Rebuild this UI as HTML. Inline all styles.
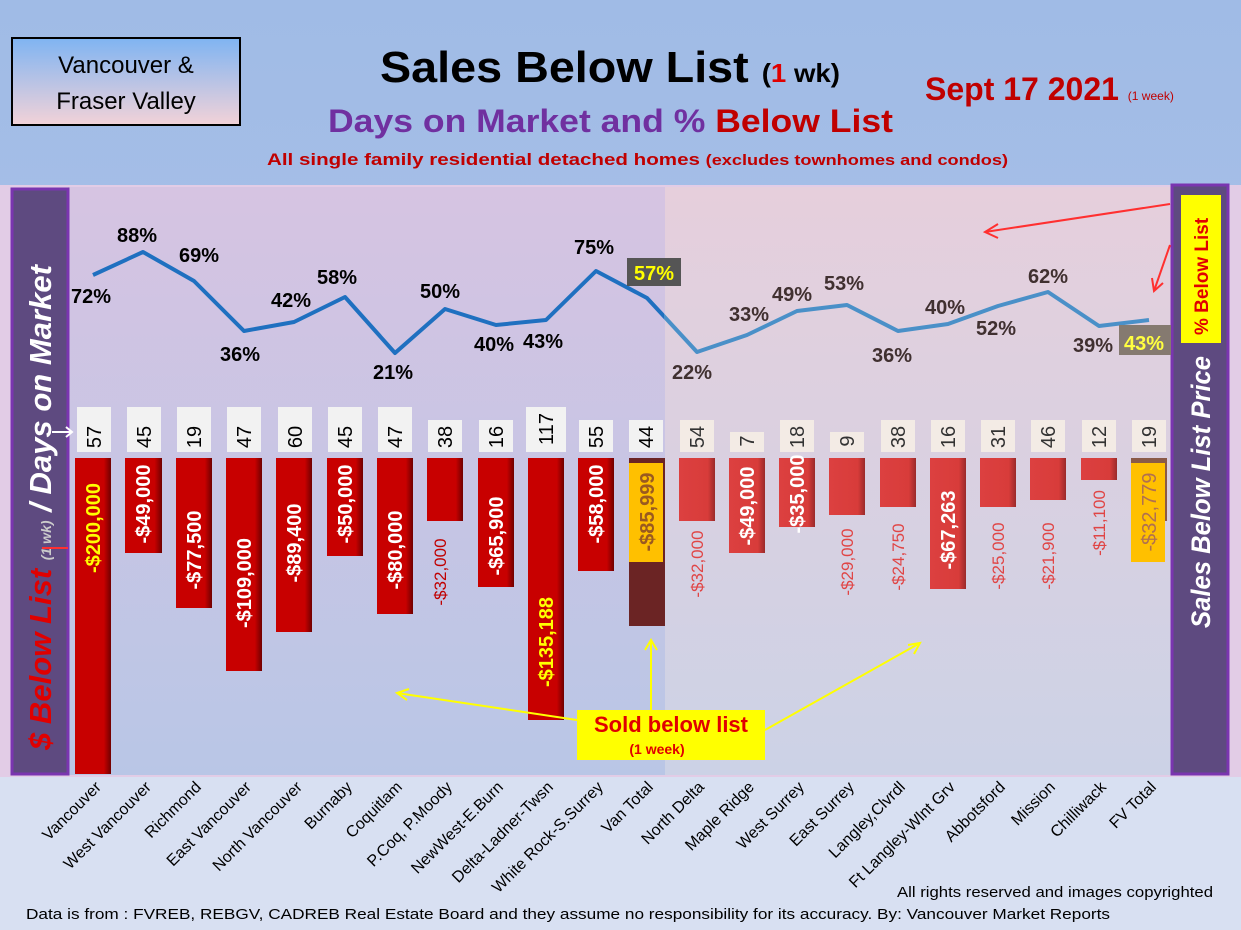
<!DOCTYPE html>
<html><head><meta charset="utf-8"><style>
html,body{margin:0;padding:0;background:#fff}
svg{display:block;font-family:"Liberation Sans",sans-serif}
</style></head><body>
<svg width="1241" height="930" viewBox="0 0 1241 930" xmlns="http://www.w3.org/2000/svg">
<defs>
<linearGradient id="bg" x1="0" y1="0" x2="0" y2="1"><stop offset="0" stop-color="#a0bbe6"/><stop offset="1" stop-color="#b3c7ea"/></linearGradient>
<linearGradient id="box" x1="0" y1="0" x2="0" y2="1"><stop offset="0" stop-color="#7fb4f2"/><stop offset="1" stop-color="#f2d2d8"/></linearGradient>
<linearGradient id="lp" x1="0" y1="0" x2="0" y2="1"><stop offset="0" stop-color="#d6c4e2"/><stop offset="1" stop-color="#b9c6e6"/></linearGradient>
<linearGradient id="rp" x1="0" y1="0" x2="0" y2="1"><stop offset="0" stop-color="#e6cfdc"/><stop offset="1" stop-color="#ccd2e6"/></linearGradient>
<linearGradient id="bar" x1="0" y1="0" x2="1" y2="0"><stop offset="0" stop-color="#c80000"/><stop offset=".8" stop-color="#c80000"/><stop offset="1" stop-color="#700000"/></linearGradient>
<linearGradient id="bar2" x1="0" y1="0" x2="1" y2="0"><stop offset="0" stop-color="#dc4040"/><stop offset=".8" stop-color="#d83c3a"/><stop offset="1" stop-color="#9a2a2a"/></linearGradient>
<clipPath id="cl"><rect x="0" y="0" width="664" height="930"/></clipPath>
<clipPath id="cr"><rect x="664" y="0" width="600" height="930"/></clipPath>
</defs>
<rect width="1241" height="930" fill="url(#bg)"/>
<rect x="0" y="185" width="1241" height="592" fill="#e2cce6"/>
<rect x="0" y="777" width="1241" height="153" fill="#d8e0f2"/>
<rect x="68" y="187" width="597" height="588" fill="url(#lp)"/>
<rect x="665" y="187" width="507" height="588" fill="url(#rp)"/>
<rect x="12" y="189" width="56" height="585" fill="#5e4a80" stroke="#7a35b0" stroke-width="3"/>
<rect x="1172" y="185" width="56" height="589" fill="#5e4a80" stroke="#7a35b0" stroke-width="3"/>

<!-- header -->
<rect x="12" y="38" width="228" height="87" fill="url(#box)" stroke="#000" stroke-width="2"/>
<text x="126" y="73" font-size="24" text-anchor="middle">Vancouver &amp;</text>
<text x="126" y="109" font-size="24" text-anchor="middle">Fraser Valley</text>
<text x="380" y="82" font-size="44" font-weight="bold" textLength="460" lengthAdjust="spacingAndGlyphs">Sales Below List <tspan font-size="26">(<tspan fill="#e00000">1</tspan> wk)</tspan></text>
<text x="328" y="132" font-size="32" font-weight="bold" fill="#7030a0" textLength="565" lengthAdjust="spacingAndGlyphs">Days on Market and % <tspan fill="#c00000">Below List</tspan></text>
<text x="267" y="165" font-size="17" font-weight="bold" fill="#c00000" textLength="741" lengthAdjust="spacingAndGlyphs">All single family residential detached homes <tspan font-size="15">(excludes townhomes and condos)</tspan></text>
<text x="925" y="100" font-size="32" font-weight="bold" fill="#c00000">Sept 17  2021 <tspan font-size="12" font-weight="normal">(1 week)</tspan></text>

<!-- panels text -->
<text transform="translate(51,750) rotate(-90)" font-size="31" font-weight="bold" font-style="italic" fill="#fff" textLength="485" lengthAdjust="spacingAndGlyphs"><tspan fill="#e00000">$ Below List</tspan> <tspan font-size="14" fill="#ccc">(1 wk)</tspan> / Days on Market</text>
<text transform="translate(1210,628) rotate(-90)" font-size="27" font-weight="bold" font-style="italic" fill="#fff" textLength="272" lengthAdjust="spacingAndGlyphs">Sales Below List Price</text>
<rect x="1181" y="195" width="40" height="148" fill="#ffff00"/>
<text transform="translate(1208,335) rotate(-90)" font-size="19" font-weight="bold" fill="#e00000">% Below List</text>

<!-- bars -->
<g>
<rect x="75" y="458" width="36" height="316" fill="url(#bar)"/>
<rect x="125" y="458" width="37" height="95" fill="url(#bar)"/>
<rect x="176" y="458" width="36" height="150" fill="url(#bar)"/>
<rect x="226" y="458" width="36" height="213" fill="url(#bar)"/>
<rect x="276" y="458" width="36" height="174" fill="url(#bar)"/>
<rect x="327" y="458" width="36" height="98" fill="url(#bar)"/>
<rect x="377" y="458" width="36" height="156" fill="url(#bar)"/>
<rect x="427" y="458" width="36" height="63" fill="url(#bar)"/>
<rect x="478" y="458" width="36" height="129" fill="url(#bar)"/>
<rect x="528" y="458" width="36" height="262" fill="url(#bar)"/>
<rect x="578" y="458" width="36" height="113" fill="url(#bar)"/>
<rect x="629" y="458" width="36" height="168" fill="#6b2424"/>
<rect x="679" y="458" width="36" height="63" fill="url(#bar2)"/>
<rect x="729" y="458" width="36" height="95" fill="url(#bar2)"/>
<rect x="779" y="458" width="36" height="69" fill="url(#bar2)"/>
<rect x="829" y="458" width="36" height="57" fill="url(#bar2)"/>
<rect x="880" y="458" width="36" height="49" fill="url(#bar2)"/>
<rect x="930" y="458" width="36" height="131" fill="url(#bar2)"/>
<rect x="980" y="458" width="36" height="49" fill="url(#bar2)"/>
<rect x="1030" y="458" width="36" height="42" fill="url(#bar2)"/>
<rect x="1081" y="458" width="36" height="22" fill="url(#bar2)"/>
<rect x="1131" y="458" width="36" height="63" fill="#8a5a48"/>
<rect x="629" y="463" width="34" height="99" fill="#ffc000"/>
<rect x="1131" y="463" width="34" height="99" fill="#ffc000"/>
</g>

<!-- bar labels -->
<g font-size="20" font-weight="bold" text-anchor="middle" fill="#fff">
<text transform="translate(100,528) rotate(-90)" fill="#ffff00">-$200,000</text>
<text transform="translate(150,504) rotate(-90)">-$49,000</text>
<text transform="translate(201,550) rotate(-90)">-$77,500</text>
<text transform="translate(251,583) rotate(-90)">-$109,000</text>
<text transform="translate(301,543) rotate(-90)">-$89,400</text>
<text transform="translate(352,504) rotate(-90)">-$50,000</text>
<text transform="translate(402,550) rotate(-90)">-$80,000</text>
<text transform="translate(503,536) rotate(-90)">-$65,900</text>
<text transform="translate(553,642) rotate(-90)" fill="#ffff00">-$135,188</text>
<text transform="translate(603,504) rotate(-90)">-$58,000</text>
<text transform="translate(654,512) rotate(-90)" fill="#9a5a20">-$85,999</text>
<text transform="translate(754,506) rotate(-90)">-$49,000</text>
<text transform="translate(804,494) rotate(-90)">-$35,000</text>
<text transform="translate(955,530) rotate(-90)">-$67,263</text>
<text transform="translate(1156,512) rotate(-90)" fill="#b07050" font-weight="normal">-$32,779</text>
</g>
<g font-size="17" text-anchor="middle" fill="#c00000">
<text transform="translate(446,572) rotate(-90)">-$32,000</text>
</g>
<g font-size="17" text-anchor="middle" fill="#e04545">
<text transform="translate(703,564) rotate(-90)">-$32,000</text>
<text transform="translate(853,562) rotate(-90)">-$29,000</text>
<text transform="translate(904,557) rotate(-90)">-$24,750</text>
<text transform="translate(1004,556) rotate(-90)">-$25,000</text>
<text transform="translate(1054,556) rotate(-90)">-$21,900</text>
<text transform="translate(1105,523) rotate(-90)">-$11,100</text>
</g>

<!-- day boxes -->
<g fill="#f2f2f2">
<rect x="77" y="407" width="34" height="45"/><rect x="127" y="407" width="34" height="45"/><rect x="177" y="407" width="34" height="45"/><rect x="227" y="407" width="34" height="45"/><rect x="278" y="407" width="34" height="45"/><rect x="328" y="407" width="34" height="45"/><rect x="378" y="407" width="34" height="45"/><rect x="428" y="420" width="34" height="32"/><rect x="479" y="420" width="34" height="32"/><rect x="526" y="407" width="40" height="45"/><rect x="579" y="420" width="34" height="32"/><rect x="629" y="420" width="34" height="32"/>
</g>
<g fill="#f3ebe5">
<rect x="680" y="420" width="34" height="32"/><rect x="730" y="432" width="34" height="20"/><rect x="780" y="420" width="34" height="32"/><rect x="830" y="432" width="34" height="20"/><rect x="881" y="420" width="34" height="32"/><rect x="931" y="420" width="34" height="32"/><rect x="981" y="420" width="34" height="32"/><rect x="1031" y="420" width="34" height="32"/><rect x="1082" y="420" width="34" height="32"/><rect x="1132" y="420" width="34" height="32"/>
</g>
<g font-size="20" text-anchor="middle" fill="#000">
<text transform="translate(101,437) rotate(-90)">57</text>
<text transform="translate(151,437) rotate(-90)">45</text>
<text transform="translate(201,437) rotate(-90)">19</text>
<text transform="translate(251,437) rotate(-90)">47</text>
<text transform="translate(302,437) rotate(-90)">60</text>
<text transform="translate(352,437) rotate(-90)">45</text>
<text transform="translate(402,437) rotate(-90)">47</text>
<text transform="translate(452,437) rotate(-90)">38</text>
<text transform="translate(503,437) rotate(-90)">16</text>
<text transform="translate(553,429) rotate(-90)">117</text>
<text transform="translate(603,437) rotate(-90)">55</text>
<text transform="translate(653,437) rotate(-90)">44</text>
</g>
<g font-size="20" text-anchor="middle" fill="#333">
<text transform="translate(704,437) rotate(-90)">54</text>
<text transform="translate(754,441) rotate(-90)">7</text>
<text transform="translate(804,437) rotate(-90)">18</text>
<text transform="translate(854,441) rotate(-90)">9</text>
<text transform="translate(905,437) rotate(-90)">38</text>
<text transform="translate(955,437) rotate(-90)">16</text>
<text transform="translate(1005,437) rotate(-90)">31</text>
<text transform="translate(1055,437) rotate(-90)">46</text>
<text transform="translate(1106,437) rotate(-90)">12</text>
<text transform="translate(1156,437) rotate(-90)">19</text>
</g>

<!-- line -->
<polyline clip-path="url(#cl)" fill="none" stroke="#1f70c0" stroke-width="4" stroke-linejoin="round" points="93,275 143,252 194,281 244,331 294,322 345,297 395,353 445,309 496,325 546,320 596,271 647,298 697,352 747,335 797,311 847,305 898,331 948,324 998,306 1048,292 1099,326 1149,320"/>
<polyline clip-path="url(#cr)" fill="none" stroke="#4a90c8" stroke-width="4" stroke-linejoin="round" points="93,275 143,252 194,281 244,331 294,322 345,297 395,353 445,309 496,325 546,320 596,271 647,298 697,352 747,335 797,311 847,305 898,331 948,324 998,306 1048,292 1099,326 1149,320"/>
<rect x="627" y="258" width="54" height="28" fill="#555"/>
<rect x="1119" y="325" width="52" height="30" fill="#857a70"/>
<g font-size="20" font-weight="bold" text-anchor="middle" fill="#000">
<text x="91" y="303">72%</text><text x="137" y="242">88%</text><text x="199" y="262">69%</text><text x="240" y="361">36%</text><text x="291" y="307">42%</text><text x="337" y="284">58%</text><text x="393" y="379">21%</text><text x="440" y="298">50%</text><text x="494" y="351">40%</text><text x="543" y="348">43%</text><text x="594" y="254">75%</text>
<text x="654" y="280" fill="#ffff00">57%</text>
</g>
<g font-size="20" font-weight="bold" text-anchor="middle" fill="#403030">
<text x="692" y="379">22%</text><text x="749" y="321">33%</text><text x="792" y="301">49%</text><text x="844" y="290">53%</text><text x="892" y="362">36%</text><text x="945" y="314">40%</text><text x="996" y="335">52%</text><text x="1048" y="283">62%</text><text x="1093" y="352">39%</text>
<text x="1144" y="350" fill="#ffff40">43%</text>
</g>

<!-- arrows -->
<g stroke="#ff3030" stroke-width="2" fill="none">
<line x1="1170" y1="204" x2="985" y2="232"/><polyline points="998,224 985,232 998,238"/>
<line x1="1170" y1="245" x2="1154" y2="291"/><polyline points="1152,278 1154,291 1163,283"/>
<line x1="42" y1="548" x2="68" y2="548"/>
</g>
<g stroke="#fff" stroke-width="2" fill="none"><line x1="52" y1="432" x2="72" y2="432"/><polyline points="66,427 72,432 66,437"/></g>
<g stroke="#ffff00" stroke-width="2" fill="none">
<line x1="577" y1="720" x2="397" y2="693"/><polyline points="409,689 397,693 407,700"/>
<line x1="651" y1="710" x2="651" y2="640"/><polyline points="645,650 651,640 657,650"/>
<line x1="765" y1="730" x2="920" y2="643"/><polyline points="908,645 920,643 914,654"/>
</g>
<rect x="577" y="710" width="188" height="50" fill="#ffff00"/>
<text x="671" y="732" font-size="22" font-weight="bold" fill="#e00000" text-anchor="middle">Sold below list</text>
<text x="657" y="754" font-size="14" font-weight="bold" fill="#e00000" text-anchor="middle">(1 week)</text>

<!-- categories -->
<g font-size="16" text-anchor="end" fill="#000">
<text transform="translate(102,788) rotate(-45)">Vancouver</text>
<text transform="translate(152,788) rotate(-45)">West Vancouver</text>
<text transform="translate(202,788) rotate(-45)">Richmond</text>
<text transform="translate(252,788) rotate(-45)">East Vancouver</text>
<text transform="translate(303,788) rotate(-45)">North Vancouver</text>
<text transform="translate(353,788) rotate(-45)">Burnaby</text>
<text transform="translate(403,788) rotate(-45)">Coquitlam</text>
<text transform="translate(453,788) rotate(-45)">P.Coq, P.Moody</text>
<text transform="translate(504,788) rotate(-45)">NewWest-E.Burn</text>
<text transform="translate(554,788) rotate(-45)">Delta-Ladner-Twsn</text>
<text transform="translate(604,788) rotate(-45)">White Rock-S.Surrey</text>
<text transform="translate(654,788) rotate(-45)">Van Total</text>
<text transform="translate(705,788) rotate(-45)">North Delta</text>
<text transform="translate(755,788) rotate(-45)">Maple Ridge</text>
<text transform="translate(805,788) rotate(-45)">West Surrey</text>
<text transform="translate(855,788) rotate(-45)">East Surrey</text>
<text transform="translate(906,788) rotate(-45)">Langley,Clvrdl</text>
<text transform="translate(956,788) rotate(-45)">Ft Langley-Wlnt Grv</text>
<text transform="translate(1006,788) rotate(-45)">Abbotsford</text>
<text transform="translate(1056,788) rotate(-45)">Mission</text>
<text transform="translate(1107,788) rotate(-45)">Chilliwack</text>
<text transform="translate(1157,788) rotate(-45)">FV Total</text>
</g>
<text x="897" y="897" font-size="15" textLength="316" lengthAdjust="spacingAndGlyphs">All rights reserved and  images copyrighted</text>
<text x="26" y="919" font-size="15" textLength="1084" lengthAdjust="spacingAndGlyphs">Data is from : FVREB, REBGV, CADREB Real Estate Board and they assume no responsibility for its accuracy. By: Vancouver Market Reports</text>
</svg>
</body></html>
